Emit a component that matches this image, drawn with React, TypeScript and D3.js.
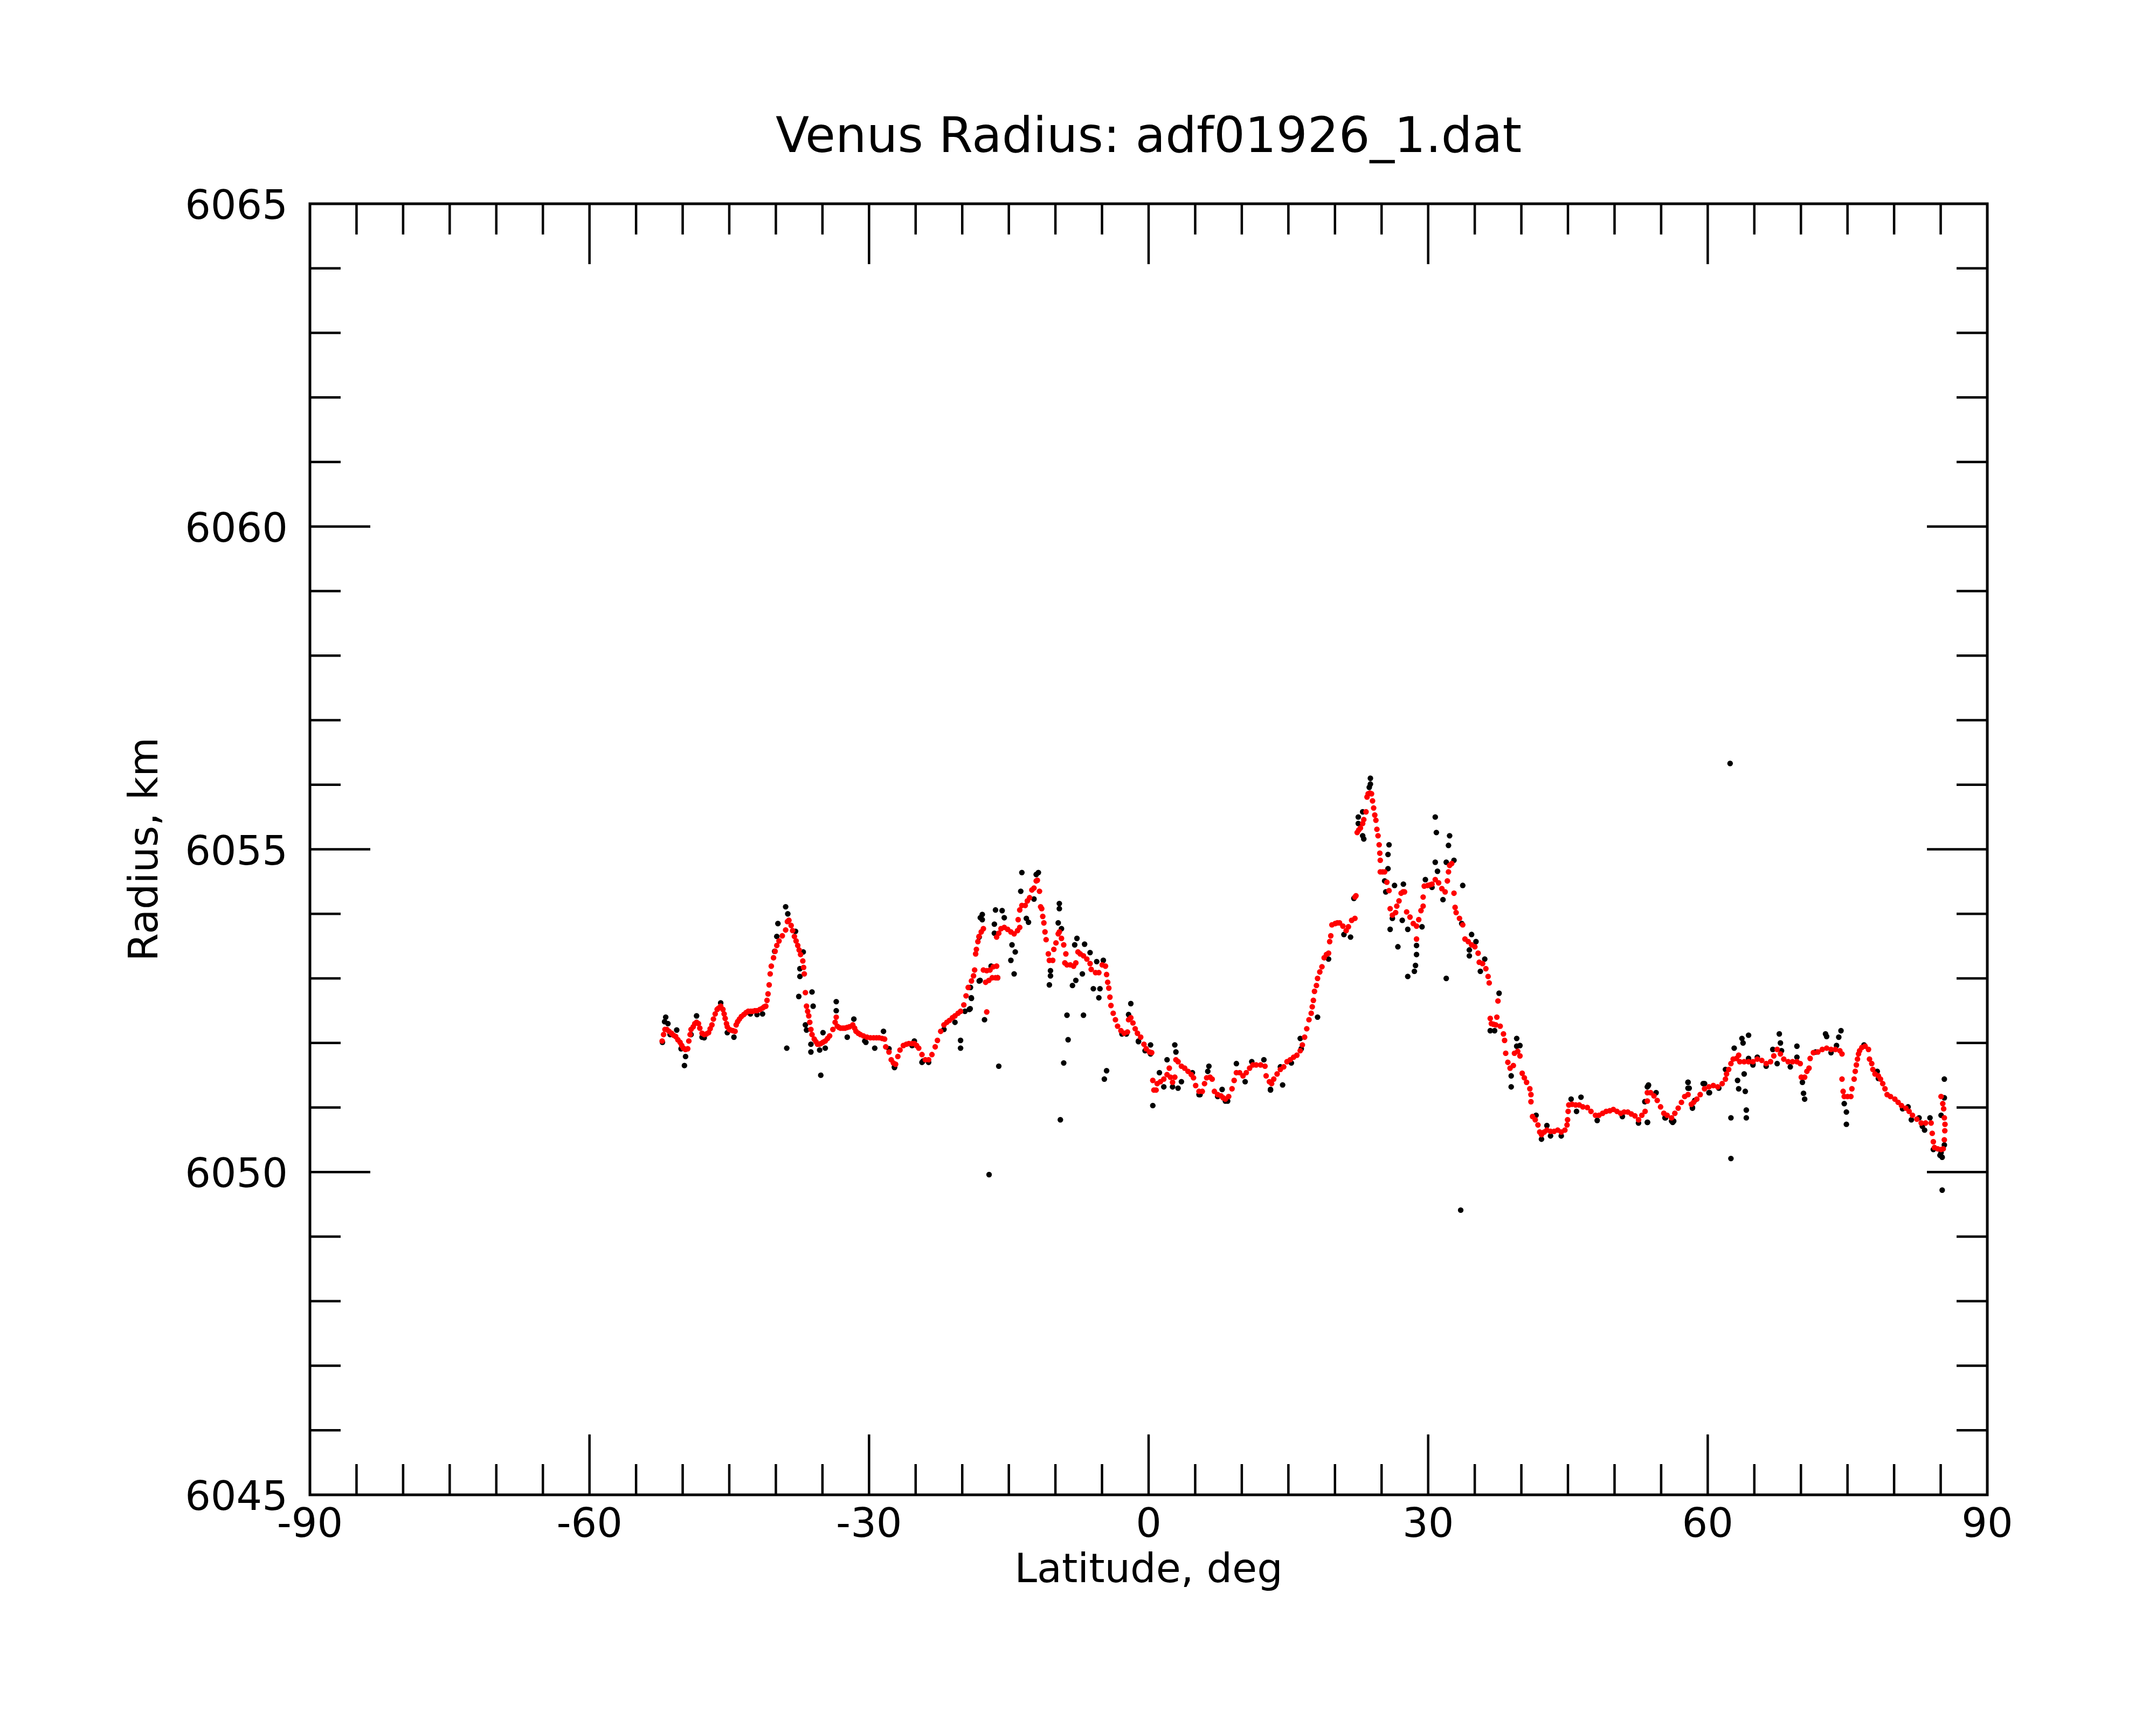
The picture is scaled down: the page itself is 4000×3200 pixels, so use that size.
import * as d3 from 'd3';

// smoothed radius profile (red), [latitude deg, radius km]
const smoothedRadius: [number, number][] = [
  [-52.2, 6052.03], [-52.05, 6052.13], [-51.9, 6052.21], [-51.7, 6052.21], [-51.47, 6052.18], [-51.2, 6052.15],
  [-50.99, 6052.12], [-50.75, 6052.1], [-50.52, 6052.05], [-50.28, 6052.01], [-50.1, 6051.96], [-49.93, 6051.92],
  [-49.7, 6051.9], [-49.46, 6051.91], [-49.34, 6052.03], [-49.2, 6052.13], [-49.1, 6052.21], [-48.87, 6052.25],
  [-48.7, 6052.3], [-48.51, 6052.32], [-48.3, 6052.3], [-48.16, 6052.23], [-47.92, 6052.15], [-47.69, 6052.13],
  [-47.45, 6052.14], [-47.22, 6052.16], [-47.05, 6052.22], [-46.86, 6052.28], [-46.7, 6052.37], [-46.51, 6052.45],
  [-46.3, 6052.52], [-46.15, 6052.54], [-45.92, 6052.57], [-45.68, 6052.52], [-45.55, 6052.45], [-45.44, 6052.38],
  [-45.3, 6052.3], [-45.21, 6052.25], [-45.0, 6052.21], [-44.86, 6052.2], [-44.6, 6052.19], [-44.38, 6052.18],
  [-44.26, 6052.28], [-44.1, 6052.33], [-43.91, 6052.37], [-43.7, 6052.41], [-43.44, 6052.44], [-43.2, 6052.47],
  [-42.97, 6052.49], [-42.7, 6052.49], [-42.49, 6052.49], [-42.25, 6052.5], [-42.02, 6052.5], [-41.7, 6052.52],
  [-41.43, 6052.54], [-41.25, 6052.56], [-41.08, 6052.57], [-40.95, 6052.66], [-40.84, 6052.76], [-40.72, 6052.9],
  [-40.61, 6053.07], [-40.49, 6053.19], [-40.25, 6053.32], [-40.08, 6053.42], [-39.9, 6053.51], [-39.66, 6053.58],
  [-39.31, 6053.66], [-38.95, 6053.75], [-38.76, 6053.88], [-38.6, 6053.9], [-38.36, 6053.82], [-38.2, 6053.74],
  [-38.01, 6053.65], [-37.83, 6053.58], [-37.65, 6053.51], [-37.5, 6053.44], [-37.35, 6053.37], [-37.11, 6053.27],
  [-37.02, 6053.17], [-36.95, 6053.07], [-36.83, 6052.78], [-36.71, 6052.57], [-36.59, 6052.49], [-36.47, 6052.42],
  [-36.36, 6052.32], [-36.24, 6052.21], [-36.12, 6052.13], [-35.88, 6052.06], [-35.7, 6052.02], [-35.53, 6051.98],
  [-35.35, 6051.98], [-35.18, 6051.99], [-34.95, 6052.01], [-34.7, 6052.03], [-34.45, 6052.07], [-34.23, 6052.11],
  [-33.88, 6052.21], [-33.64, 6052.32], [-33.52, 6052.4], [-33.41, 6052.26], [-33.22, 6052.24], [-33.05, 6052.23],
  [-32.8, 6052.23], [-32.58, 6052.23], [-32.35, 6052.24], [-32.11, 6052.25], [-31.75, 6052.28], [-31.55, 6052.23],
  [-31.4, 6052.18], [-31.15, 6052.15], [-30.93, 6052.13], [-30.6, 6052.11], [-30.22, 6052.09], [-29.85, 6052.08],
  [-29.51, 6052.08], [-29.2, 6052.08], [-28.92, 6052.08], [-28.6, 6052.07], [-28.33, 6052.06], [-28.21, 6051.94],
  [-27.86, 6051.86], [-27.62, 6051.74], [-27.39, 6051.69], [-27.15, 6051.67], [-26.91, 6051.79], [-26.68, 6051.89],
  [-26.32, 6051.96], [-26.0, 6051.98], [-25.73, 6051.99], [-25.4, 6051.99], [-25.14, 6051.99], [-24.9, 6051.96],
  [-24.67, 6051.92], [-24.32, 6051.82], [-23.96, 6051.74], [-23.61, 6051.74], [-23.25, 6051.82], [-22.9, 6051.94],
  [-22.66, 6052.04], [-22.31, 6052.18], [-21.96, 6052.28], [-21.65, 6052.32], [-21.37, 6052.35], [-21.05, 6052.39],
  [-20.78, 6052.42], [-20.45, 6052.46], [-20.18, 6052.49], [-19.83, 6052.59], [-19.59, 6052.73], [-19.36, 6052.86],
  [-19.01, 6052.96], [-18.79, 6053.04], [-18.67, 6053.13], [-18.56, 6053.38], [-18.48, 6053.45], [-18.32, 6053.57],
  [-18.2, 6053.65], [-17.96, 6053.72], [-17.73, 6053.77],
  [-17.73, 6053.13], [-17.37, 6053.12], [-17.02, 6053.13], [-16.67, 6053.18], [-16.31, 6053.19],
  [-17.49, 6052.94], [-17.14, 6052.97], [-16.78, 6053.01], [-16.43, 6053.01], [-16.2, 6053.01], [-17.37, 6052.48],
  [-16.31, 6053.64], [-16.08, 6053.7], [-15.84, 6053.77], [-15.49, 6053.79], [-15.13, 6053.76], [-14.78, 6053.72],
  [-14.43, 6053.69], [-14.07, 6053.74], [-13.83, 6053.79], [-14.0, 6053.91], [-13.83, 6054.06], [-13.6, 6054.13],
  [-13.24, 6054.13], [-13.01, 6054.2], [-12.77, 6054.25], [-12.53, 6054.37], [-12.3, 6054.4], [-12.06, 6054.51],
  [-11.94, 6054.52], [-11.71, 6054.35], [-11.59, 6054.11], [-11.47, 6054.08], [-11.36, 6053.96], [-11.24, 6053.86],
  [-11.12, 6053.72], [-11.0, 6053.6], [-10.76, 6053.38], [-10.65, 6053.28], [-10.29, 6053.28], [-10.17, 6053.45],
  [-9.94, 6053.55], [-9.7, 6053.69], [-9.58, 6053.72], [-9.35, 6053.62], [-9.11, 6053.52], [-8.88, 6053.38],
  [-8.99, 6053.24], [-8.76, 6053.21], [-8.4, 6053.21], [-8.05, 6053.19], [-7.81, 6053.24], [-7.58, 6053.41],
  [-7.34, 6053.38], [-6.99, 6053.35], [-6.63, 6053.3], [-6.28, 6053.23], [-6.16, 6053.14], [-5.69, 6053.09],
  [-5.34, 6053.09], [-4.98, 6053.21], [-4.63, 6053.19], [-4.51, 6053.06], [-4.39, 6052.94], [-4.27, 6052.85],
  [-4.15, 6052.71], [-4.04, 6052.58], [-3.8, 6052.46], [-3.56, 6052.36], [-3.33, 6052.26], [-2.97, 6052.19],
  [-2.62, 6052.15], [-2.27, 6052.17], [-2.15, 6052.36], [-1.91, 6052.39], [-1.68, 6052.31], [-1.44, 6052.22],
  [-1.2, 6052.15], [-0.85, 6052.09], [-0.5, 6051.98], [-0.26, 6051.91], [0.09, 6051.86], [0.33, 6051.85],
  [0.45, 6051.42], [0.57, 6051.27], [0.8, 6051.27], [0.92, 6051.37], [1.27, 6051.4], [1.63, 6051.44],
  [1.98, 6051.51], [2.22, 6051.61], [2.34, 6051.47], [2.57, 6051.39], [2.81, 6051.47], [2.93, 6051.74],
  [3.16, 6051.71], [3.52, 6051.64], [3.87, 6051.61], [4.23, 6051.56], [4.58, 6051.51], [4.82, 6051.46],
  [5.05, 6051.34], [5.41, 6051.25], [5.76, 6051.25], [6.0, 6051.37], [6.23, 6051.46], [6.59, 6051.47],
  [6.82, 6051.44], [7.06, 6051.25], [7.41, 6051.2], [7.77, 6051.18], [8.0, 6051.15], [8.24, 6051.13],
  [8.59, 6051.17], [8.95, 6051.29], [9.18, 6051.42], [9.42, 6051.54], [9.77, 6051.54], [10.13, 6051.49],
  [10.48, 6051.54], [10.84, 6051.61], [11.19, 6051.66], [11.54, 6051.66], [12.02, 6051.66], [12.49, 6051.64],
  [12.61, 6051.49], [12.96, 6051.4], [13.2, 6051.37], [13.43, 6051.44], [13.79, 6051.52], [14.14, 6051.59],
  [14.5, 6051.63], [14.85, 6051.71], [15.2, 6051.74], [15.56, 6051.78], [15.91, 6051.81], [16.27, 6051.88],
  [16.5, 6051.97], [16.74, 6052.09], [16.97, 6052.22], [17.21, 6052.36], [17.45, 6052.46], [17.56, 6052.56],
  [17.68, 6052.66], [17.8, 6052.8], [18.01, 6052.89], [18.13, 6053.0], [18.37, 6053.1], [18.6, 6053.18],
  [18.84, 6053.32], [19.08, 6053.37], [19.31, 6053.39], [19.43, 6053.57], [19.55, 6053.66], [19.67, 6053.83],
  [20.02, 6053.85], [20.25, 6053.86], [20.49, 6053.86], [20.85, 6053.81], [21.2, 6053.74], [21.44, 6053.8],
  [21.79, 6053.9], [22.14, 6053.93], [22.14, 6054.26], [22.25, 6054.28], [22.38, 6055.26], [22.55, 6055.3],
  [22.73, 6055.33], [22.97, 6055.4], [23.09, 6055.46], [23.33, 6055.58], [23.44, 6055.81], [23.56, 6055.86],
  [23.75, 6055.87], [23.92, 6055.86], [24.03, 6055.75], [24.15, 6055.64], [24.27, 6055.53], [24.39, 6055.45],
  [24.5, 6055.31], [24.62, 6055.21], [24.74, 6055.07], [24.81, 6054.94], [24.86, 6054.83], [24.86, 6054.65],
  [25.1, 6054.65], [25.33, 6054.65], [25.57, 6054.49], [25.8, 6054.36], [25.92, 6054.08], [26.16, 6053.98],
  [26.51, 6054.02], [26.63, 6054.12], [26.87, 6054.2], [27.1, 6054.32], [27.3, 6054.34], [27.46, 6054.34],
  [27.69, 6054.03], [28.05, 6053.95], [28.4, 6053.85], [28.75, 6053.81], [28.75, 6053.61], [28.99, 6053.91],
  [29.23, 6054.05], [29.46, 6054.12], [29.46, 6054.26], [29.58, 6054.43], [29.94, 6054.44], [30.2, 6054.45],
  [30.41, 6054.46], [30.76, 6054.53], [31.12, 6054.48], [31.47, 6054.39], [31.82, 6054.34], [32.06, 6054.51],
  [32.18, 6054.65], [32.3, 6054.75], [32.53, 6054.78], [32.77, 6054.32], [32.89, 6054.1], [33.0, 6054.02],
  [33.36, 6053.93], [33.71, 6053.83], [33.95, 6053.61], [34.3, 6053.57], [34.66, 6053.52], [35.01, 6053.49],
  [35.36, 6053.39], [35.48, 6053.25], [35.84, 6053.23], [36.19, 6053.15], [36.43, 6053.03], [36.55, 6052.93],
  [37.49, 6052.65], [37.37, 6052.4], [36.66, 6052.38], [36.78, 6052.3], [37.0, 6052.29], [37.25, 6052.28],
  [37.73, 6052.26], [38.08, 6052.14], [38.2, 6052.04], [38.32, 6051.84], [38.55, 6051.7], [38.79, 6051.61],
  [39.14, 6051.65], [39.26, 6051.84], [39.61, 6051.87], [39.85, 6051.8], [40.09, 6051.53], [40.32, 6051.46],
  [40.56, 6051.39], [40.91, 6051.29], [41.03, 6051.2], [41.03, 6051.09], [41.2, 6050.86], [41.49, 6050.81],
  [41.78, 6050.73], [41.97, 6050.62], [42.16, 6050.58], [42.45, 6050.62], [42.74, 6050.65], [43.13, 6050.63],
  [43.51, 6050.63], [43.9, 6050.65], [44.28, 6050.62], [44.67, 6050.65], [44.9, 6050.73], [44.96, 6050.81],
  [45.02, 6050.94], [45.09, 6051.04], [45.44, 6051.05], [45.83, 6051.04], [46.21, 6051.04], [46.6, 6051.01],
  [47.08, 6051.0], [47.47, 6050.94], [47.95, 6050.88], [48.33, 6050.88], [48.72, 6050.91], [49.1, 6050.94],
  [49.49, 6050.95], [49.87, 6050.97], [50.26, 6050.94], [50.65, 6050.91], [51.03, 6050.93], [51.42, 6050.93],
  [51.8, 6050.9], [52.19, 6050.87], [52.58, 6050.81], [52.93, 6050.88], [53.28, 6050.94], [53.52, 6051.1],
  [53.52, 6051.23], [53.87, 6051.23], [54.23, 6051.18], [54.58, 6051.11], [54.94, 6051.01], [55.29, 6050.91],
  [55.64, 6050.88], [56.12, 6050.84], [56.47, 6050.91], [56.83, 6050.99], [57.18, 6051.08], [57.53, 6051.17],
  [57.89, 6051.2], [58.24, 6051.05], [58.48, 6051.08], [58.83, 6051.13], [59.19, 6051.2], [59.66, 6051.29],
  [60.13, 6051.32], [60.6, 6051.34], [61.07, 6051.32], [61.55, 6051.37], [61.9, 6051.44], [62.02, 6051.52],
  [62.25, 6051.59], [62.49, 6051.68], [62.73, 6051.75], [63.08, 6051.76], [63.32, 6051.81], [63.44, 6051.71],
  [63.91, 6051.71], [64.38, 6051.71], [64.85, 6051.71], [65.32, 6051.75], [65.8, 6051.73], [66.27, 6051.68],
  [66.74, 6051.71], [67.09, 6051.8], [67.45, 6051.9], [67.8, 6051.83], [68.16, 6051.75], [68.63, 6051.71],
  [69.1, 6051.71], [69.57, 6051.71], [69.93, 6051.68], [70.04, 6051.47], [70.4, 6051.47], [70.64, 6051.56],
  [70.87, 6051.61], [70.99, 6051.76], [71.34, 6051.85], [71.82, 6051.86], [72.29, 6051.9], [72.76, 6051.92],
  [73.23, 6051.9], [73.7, 6051.9], [74.18, 6051.88], [74.41, 6051.83], [74.41, 6051.44], [74.53, 6051.25],
  [74.65, 6051.17], [75.0, 6051.17], [75.36, 6051.17], [75.47, 6051.29], [75.71, 6051.44], [75.83, 6051.56],
  [75.95, 6051.66], [76.07, 6051.75], [76.18, 6051.83], [76.3, 6051.88], [76.54, 6051.93], [76.89, 6051.95],
  [77.25, 6051.9], [77.36, 6051.75], [77.6, 6051.68], [77.72, 6051.59], [77.95, 6051.52], [78.31, 6051.49],
  [78.54, 6051.44], [78.78, 6051.37], [79.02, 6051.29], [79.25, 6051.2], [79.61, 6051.17], [80.08, 6051.13],
  [80.43, 6051.08], [80.79, 6051.03], [81.26, 6050.99], [81.61, 6050.94], [81.97, 6050.88], [82.44, 6050.82],
  [82.91, 6050.76], [83.38, 6050.76], [83.97, 6050.76], [84.09, 6050.6], [84.21, 6050.47], [84.33, 6050.38],
  [84.68, 6050.36], [85.04, 6050.35], [85.27, 6050.36], [85.39, 6050.5], [85.44, 6050.64], [85.46, 6050.74],
  [85.39, 6050.84], [85.32, 6050.98], [85.22, 6051.06], [85.04, 6051.17],
];

// raw radius samples (black) that show around the smoothed profile
const rawRadius: [number, number][] = [
  [-51.82, 6052.4], [-51.94, 6052.33], [-51.58, 6052.3], [-50.64, 6052.2], [-52.17, 6052.01], [-49.69, 6051.79],
  [-49.81, 6051.65], [-48.51, 6052.42], [-47.92, 6052.09], [-45.92, 6052.62], [-44.5, 6052.09], [-41.43, 6052.45],
  [-38.95, 6054.11], [-38.72, 6054.0], [-39.78, 6053.85], [-39.9, 6053.65], [-40.13, 6053.42], [-37.89, 6053.73],
  [-37.06, 6053.41], [-37.42, 6053.15], [-37.42, 6053.03], [-38.83, 6051.92], [-37.54, 6052.72], [-36.12, 6052.79],
  [-36.0, 6052.57], [-36.83, 6052.28], [-36.71, 6052.2], [-36.24, 6051.98], [-36.24, 6051.86], [-35.3, 6051.89],
  [-35.18, 6051.5], [-34.94, 6052.16], [-34.7, 6051.92], [-33.52, 6052.64], [-33.52, 6052.5], [-32.34, 6052.09],
  [-31.63, 6052.37], [-30.46, 6052.03], [-29.39, 6051.92], [-28.45, 6052.18], [-27.86, 6051.91], [-27.27, 6051.63],
  [-25.14, 6052.03], [-24.2, 6051.72], [-20.18, 6052.04], [-20.18, 6051.92], [-19.24, 6052.52], [-19.01, 6052.69],
  [-19.12, 6052.86], [-18.18, 6052.96], [-18.06, 6053.94], [-18.18, 6053.64],
  [-51.35, 6052.13], [-50.17, 6051.91], [-49.1, 6052.13], [-47.69, 6052.08], [-45.21, 6052.16], [-42.73, 6052.45],
  [-42.02, 6052.44], [-30.34, 6052.01], [-24.32, 6051.7], [-23.61, 6051.7], [-27.27, 6051.62], [-25.38, 6051.96],
  [-19.71, 6052.49], [-20.78, 6052.32], [-21.96, 6052.21],
  [-17.12, 6049.96], [-19.03, 6052.7], [-19.15, 6052.53], [-18.08, 6052.97], [-17.85, 6053.99], [-17.85, 6053.91],
  [-17.61, 6052.36], [-16.9, 6053.19], [-16.2, 6053.01], [-16.43, 6054.06], [-15.72, 6054.05], [-15.49, 6053.94],
  [-16.55, 6053.84], [-16.55, 6053.7], [-14.66, 6053.52], [-14.31, 6053.41], [-14.78, 6053.28], [-14.43, 6053.07],
  [-16.08, 6051.64], [-13.6, 6054.64], [-13.72, 6054.35], [-13.12, 6053.93], [-12.89, 6053.87], [-12.3, 6054.23],
  [-11.83, 6054.64], [-12.06, 6054.61], [-9.58, 6054.16], [-9.58, 6054.08], [-9.7, 6053.86], [-9.35, 6053.77],
  [-10.53, 6053.12], [-10.53, 6053.04], [-10.65, 6052.9], [-8.76, 6052.43], [-7.69, 6053.62], [-7.93, 6053.52],
  [-6.87, 6053.53], [-6.28, 6053.4], [-7.81, 6052.97], [-8.17, 6052.89], [-7.11, 6053.07], [-6.99, 6052.43],
  [-5.57, 6053.26], [-4.86, 6053.28], [-5.93, 6052.84], [-5.22, 6052.84], [-5.34, 6052.7], [-8.64, 6052.05],
  [-9.11, 6051.69], [-4.51, 6051.57], [-4.75, 6051.44], [-9.47, 6050.81], [-1.91, 6052.61], [-2.15, 6052.44],
  [-1.09, 6052.03], [0.21, 6051.97], [0.45, 6051.03], [1.16, 6051.54], [1.63, 6051.32], [1.98, 6051.74],
  [2.81, 6051.97], [2.93, 6051.86], [2.57, 6051.32], [3.16, 6051.3], [3.52, 6051.4], [4.7, 6051.54],
  [6.47, 6051.64], [6.35, 6051.56], [5.52, 6051.2], [7.89, 6051.28], [8.48, 6051.1], [9.42, 6051.68],
  [11.07, 6051.71], [12.37, 6051.74], [13.08, 6051.28], [14.38, 6051.35], [14.14, 6051.63], [16.27, 6052.07],
  [-2.86, 6052.14], [-2.38, 6052.14], [-1.09, 6052.02], [-0.38, 6051.88], [0.21, 6051.83], [5.41, 6051.2],
  [7.41, 6051.17], [8.24, 6051.1], [10.36, 6051.4], [13.08, 6051.27], [15.32, 6051.69], [16.38, 6051.91],
  [18.13, 6052.4], [19.31, 6053.3], [20.96, 6053.68], [21.67, 6053.64], [22.03, 6054.24], [22.97, 6055.58],
  [22.5, 6055.5], [22.5, 6055.4], [23.09, 6055.16], [22.97, 6055.21], [23.8, 6056.1], [23.8, 6056.01],
  [23.68, 6055.96], [25.8, 6055.07], [25.69, 6054.92], [25.69, 6054.7], [25.33, 6054.51], [25.45, 6054.34],
  [26.39, 6054.44], [27.34, 6054.46], [25.92, 6053.76], [26.16, 6053.93], [26.75, 6053.49], [27.22, 6053.9],
  [27.81, 6053.76], [27.81, 6053.03], [28.52, 6053.11], [28.64, 6053.2], [28.75, 6053.37], [28.75, 6053.51],
  [29.34, 6053.8], [29.7, 6054.53], [30.41, 6054.41], [30.76, 6055.5], [30.88, 6055.26], [30.76, 6054.8],
  [31.0, 6054.66], [31.59, 6054.22], [31.94, 6053.0], [32.3, 6055.21], [32.18, 6055.06], [32.77, 6054.83],
  [31.94, 6054.8], [33.71, 6054.44], [33.6, 6053.85], [34.66, 6053.68], [35.13, 6053.57], [34.42, 6053.44],
  [34.42, 6053.35], [36.07, 6053.3], [35.6, 6053.11], [37.61, 6052.77], [36.66, 6052.19], [37.13, 6052.19],
  [39.5, 6052.07], [39.5, 6051.95], [38.91, 6051.49], [38.91, 6051.32], [33.49, 6049.41],
  [39.85, 6051.96], [42.74, 6050.72], [42.16, 6050.51], [45.34, 6051.13], [46.4, 6051.16], [45.92, 6050.94],
  [48.14, 6050.8], [53.63, 6051.34], [53.25, 6051.09], [53.54, 6050.77], [52.57, 6050.76], [55.47, 6050.84],
  [56.24, 6050.77], [57.88, 6051.39], [57.88, 6051.3], [58.36, 6051.0], [59.51, 6051.37], [60.19, 6051.23],
  [41.58, 6050.88], [43.13, 6050.56], [44.28, 6050.56], [50.84, 6050.86],
  [53.52, 6050.77], [53.52, 6051.32], [53.64, 6051.35], [54.46, 6051.23], [56.12, 6050.79], [57.89, 6051.39],
  [58.01, 6051.3], [58.36, 6050.99], [59.66, 6051.37], [60.13, 6051.23], [61.19, 6051.3], [61.9, 6051.59],
  [62.84, 6051.92], [63.67, 6052.07], [63.79, 6052.0], [64.38, 6052.12], [63.2, 6051.42], [63.32, 6051.29],
  [64.03, 6051.25], [63.91, 6051.52], [64.14, 6050.96], [64.14, 6050.84], [62.49, 6050.84], [62.49, 6050.21],
  [62.4, 6056.33], [64.38, 6051.76], [65.32, 6051.78], [64.85, 6051.68], [66.27, 6051.64], [66.98, 6051.9],
  [67.68, 6052.14], [67.8, 6052.0], [67.92, 6051.88], [67.45, 6051.68], [68.86, 6051.63], [69.57, 6051.95],
  [69.57, 6051.78], [70.16, 6051.39], [70.28, 6051.22], [70.4, 6051.13], [71.58, 6051.86], [72.64, 6052.14],
  [72.76, 6052.1], [73.23, 6051.85], [73.82, 6051.96], [74.06, 6052.09], [74.3, 6052.19], [74.65, 6051.06],
  [74.88, 6050.93], [74.88, 6050.74], [76.77, 6051.97], [78.19, 6051.56], [81.5, 6051.01], [81.85, 6050.81],
  [82.68, 6050.84], [83.27, 6050.65], [83.85, 6050.84], [84.21, 6050.35], [84.92, 6050.26], [85.39, 6051.44],
  [85.39, 6051.15], [85.04, 6050.88], [85.39, 6050.42], [85.16, 6049.72],
  [55.41, 6050.84], [56.35, 6050.79], [58.6, 6051.11], [64.85, 6051.66], [78.31, 6051.45], [80.91, 6050.98],
  [83.03, 6050.71], [85.04, 6050.3], [85.16, 6050.23],
];

const latLabels = [-90, -60, -30, 0, 30, 60, 90];
const radiusLabels = [6045, 6050, 6055, 6060, 6065];

const width = 4000;
const height = 3200;
const marginLeft = 575;
const marginRight = 3687;
const marginTop = 378;
const marginBottom = 2773;
const majorLen = 112;
const minorLen = 57;
const font = 'DejaVu Sans';

export default function App() {
  const x = d3.scaleLinear().domain([-90, 90]).range([marginLeft, marginRight]);
  const y = d3.scaleLinear().domain([6045, 6065]).range([marginBottom, marginTop]);

  // every 5 deg on x, every 1 km on y; end ticks sit on the frame
  const xTicks = x.ticks(36).filter((d) => d > -90 && d < 90);
  const yTicks = y.ticks(20).filter((d) => d > 6045 && d < 6065);

  return (
    <svg
      width={width}
      height={height}
      style={{ position: 'absolute', left: 0, top: 0, background: '#fff' }}
    >
      <rect x={0} y={0} width={width} height={height} fill="#fff" />
      <text x={(marginLeft + marginRight) / 2} y={282} textAnchor="middle" fontFamily={font} fontSize={91}>
        Venus Radius: adf01926_1.dat
      </text>

      {xTicks.map((t) => {
        const len = t % 30 === 0 ? majorLen : minorLen;
        return (
          <g key={`xt${t}`} stroke="#000" strokeWidth={4.5}>
            <line x1={x(t)} x2={x(t)} y1={marginBottom} y2={marginBottom - len} />
            <line x1={x(t)} x2={x(t)} y1={marginTop} y2={marginTop + len} />
          </g>
        );
      })}
      {yTicks.map((t) => {
        const len = t % 5 === 0 ? majorLen : minorLen;
        return (
          <g key={`yt${t}`} stroke="#000" strokeWidth={4.5}>
            <line x1={marginLeft} x2={marginLeft + len} y1={y(t)} y2={y(t)} />
            <line x1={marginRight} x2={marginRight - len} y1={y(t)} y2={y(t)} />
          </g>
        );
      })}

      <rect
        x={marginLeft}
        y={marginTop}
        width={marginRight - marginLeft}
        height={marginBottom - marginTop}
        fill="none"
        stroke="#000"
        strokeWidth={5}
      />

      {latLabels.map((t) => (
        <text key={`xl${t}`} x={x(t)} y={2851} textAnchor="middle" fontFamily={font} fontSize={75}>
          {t}
        </text>
      ))}
      {radiusLabels.map((t) => (
        <text key={`yl${t}`} x={534} y={y(t) + 28} textAnchor="end" fontFamily={font} fontSize={75}>
          {t}
        </text>
      ))}

      <text x={(marginLeft + marginRight) / 2} y={2935} textAnchor="middle" fontFamily={font} fontSize={75}>
        Latitude, deg
      </text>
      <text
        transform={`translate(292,${(marginTop + marginBottom) / 2}) rotate(-90)`}
        textAnchor="middle"
        fontFamily={font}
        fontSize={75}
      >
        Radius, km
      </text>

      <g fill="#000">
        {rawRadius.map(([lat, r], i) => (
          <circle key={`raw${i}`} cx={x(lat)} cy={y(r)} r={5.2} />
        ))}
      </g>
      <g fill="#ff0000">
        {smoothedRadius.map(([lat, r], i) => (
          <circle key={`sm${i}`} cx={x(lat)} cy={y(r)} r={5.2} />
        ))}
      </g>
    </svg>
  );
}
